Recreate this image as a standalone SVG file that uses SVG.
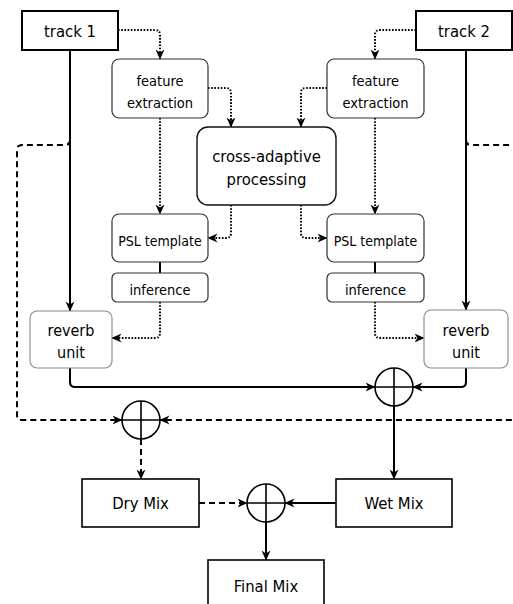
<svg xmlns="http://www.w3.org/2000/svg" width="513" height="604" viewBox="0 0 513 604">
<style>
text{font-family:"DejaVu Sans Condensed","DejaVu Sans",Verdana,sans-serif;font-stretch:condensed;fill:#000;text-anchor:middle}
.box{fill:#fff;stroke:#000;stroke-width:2}
.mix{fill:#fff;stroke:#000;stroke-width:1.6}
.rbox{fill:#fff;stroke:#333;stroke-width:1.2}
.cbox{fill:#fff;stroke:#111;stroke-width:1.4}
.rev{fill:#fff;stroke:#888;stroke-width:1.1}
.sum{fill:#fff;stroke:#000;stroke-width:1.6}
.sol{fill:none;stroke:#000;stroke-width:2}
.dot{fill:none;stroke:#000;stroke-width:2;stroke-dasharray:1.6 1.6}
.dash{fill:none;stroke:#000;stroke-width:2;stroke-dasharray:6 4}
.a{marker-end:url(#arr)}
</style>
<defs>
<marker id="arr" viewBox="0 0 10 10" refX="9.5" refY="5" markerWidth="10" markerHeight="10" markerUnits="userSpaceOnUse" orient="auto">
<path d="M0,0.5 L10,5 L0,9.5 L3,5 z" fill="#000" stroke="none"/>
</marker>
</defs>
<g id="connectors">
<path class="dot a" d="M118,30 H155 Q160,30 160,35 V59"/>
<path class="dot a" d="M208,88 H226 Q231,88 231,93 V127"/>
<path class="dot a" d="M416,30 H380 Q375,30 375,35 V59"/>
<path class="dot a" d="M327,88 H306 Q301,88 301,93 V127"/>
<path class="dot a" d="M160,118 V214"/>
<path class="dot a" d="M375,118 V214"/>
<path class="dot a" d="M231,205 V233 Q231,238 226,238 H208"/>
<path class="dot a" d="M301,205 V233 Q301,238 306,238 H327"/>
<path class="sol" d="M160,262 V273"/>
<path class="sol" d="M375,262 V273"/>
<path class="dot a" d="M160,302 V333 Q160,338 155,338 H112"/>
<path class="dot a" d="M375,302 V333 Q375,338 380,338 H424"/>
<path class="sol a" d="M70,50 V311"/>
<path class="sol a" d="M466,50 V310"/>
<path class="sol a" d="M70,368 V382 Q70,387 75,387 H375"/>
<path class="sol a" d="M466,368 V382 Q466,387 461,387 H413"/>
<path class="sol a" d="M394,406 V479"/>
<path class="dash a" d="M70,50 V140 Q70,145 65,145 H22 Q17,145 17,150 V415 Q17,420 22,420 H122"/>
<path class="dash a" d="M466,50 V140 Q466,145 471,145 H530 V420 H160"/>
<path class="dash a" d="M141,439 V479"/>
<path class="dash a" d="M199,503 H247"/>
<path class="sol a" d="M336,503 H285"/>
<path class="sol a" d="M266,522 V560"/>
</g>
<g id="track1"><rect class="box" x="22" y="11" width="96" height="39"/><text x="70" y="37" font-size="16.5">track 1</text></g>
<g id="track2"><rect class="box" x="416" y="11" width="96" height="39"/><text x="464" y="37" font-size="16.5">track 2</text></g>
<g id="feature1"><rect class="rbox" x="112" y="59" width="96" height="59" rx="7"/><text x="160" y="86" font-size="14.5">feature</text><text x="160" y="108" font-size="14.5">extraction</text></g>
<g id="feature2"><rect class="rbox" x="327" y="59" width="97" height="59" rx="7"/><text x="375.5" y="86" font-size="14.5">feature</text><text x="375.5" y="108" font-size="14.5">extraction</text></g>
<g id="cross"><rect class="cbox" x="197" y="127" width="139" height="78" rx="11"/><text x="266.5" y="162" font-size="16.5">cross-adaptive</text><text x="266.5" y="185" font-size="16.5">processing</text></g>
<g id="psl1"><rect class="rbox" x="112" y="214" width="96" height="48" rx="7"/><text x="160" y="246" font-size="14">PSL template</text></g>
<g id="psl2"><rect class="rbox" x="327" y="214" width="97" height="48" rx="7"/><text x="375.5" y="246" font-size="14">PSL template</text></g>
<g id="inference1"><rect class="rbox" x="112" y="273" width="96" height="29" rx="5"/><text x="160" y="295" font-size="14.5">inference</text></g>
<g id="inference2"><rect class="rbox" x="327" y="273" width="97" height="29" rx="5"/><text x="375.5" y="295" font-size="14.5">inference</text></g>
<g id="reverb1"><rect class="rev" x="30" y="311" width="82" height="57" rx="7"/><text x="71" y="336" font-size="16">reverb</text><text x="71" y="358" font-size="16">unit</text></g>
<g id="reverb2"><rect class="rev" x="424" y="310" width="84" height="58" rx="7"/><text x="466" y="336" font-size="16">reverb</text><text x="466" y="358" font-size="16">unit</text></g>
<g id="sum1"><circle class="sum" cx="141" cy="420" r="19"/><path class="sol" style="stroke-width:1.6" d="M141,401 V439 M122,420 H160"/></g>
<g id="sum2"><circle class="sum" cx="394" cy="387" r="19"/><path class="sol" style="stroke-width:1.6" d="M394,368 V406 M375,387 H413"/></g>
<g id="sum3"><circle class="sum" cx="266" cy="503" r="19"/><path class="sol" style="stroke-width:1.6" d="M266,484 V522 M247,503 H285"/></g>
<g id="drymix"><rect class="mix" x="82" y="479" width="117" height="48"/><text x="140.5" y="509" font-size="16.5">Dry Mix</text></g>
<g id="wetmix"><rect class="mix" x="336" y="479" width="116" height="48"/><text x="394" y="509" font-size="16.5">Wet Mix</text></g>
<g id="finalmix"><rect class="mix" x="208" y="560" width="116" height="48"/><text x="266" y="592" font-size="16.5">Final Mix</text></g>
</svg>
